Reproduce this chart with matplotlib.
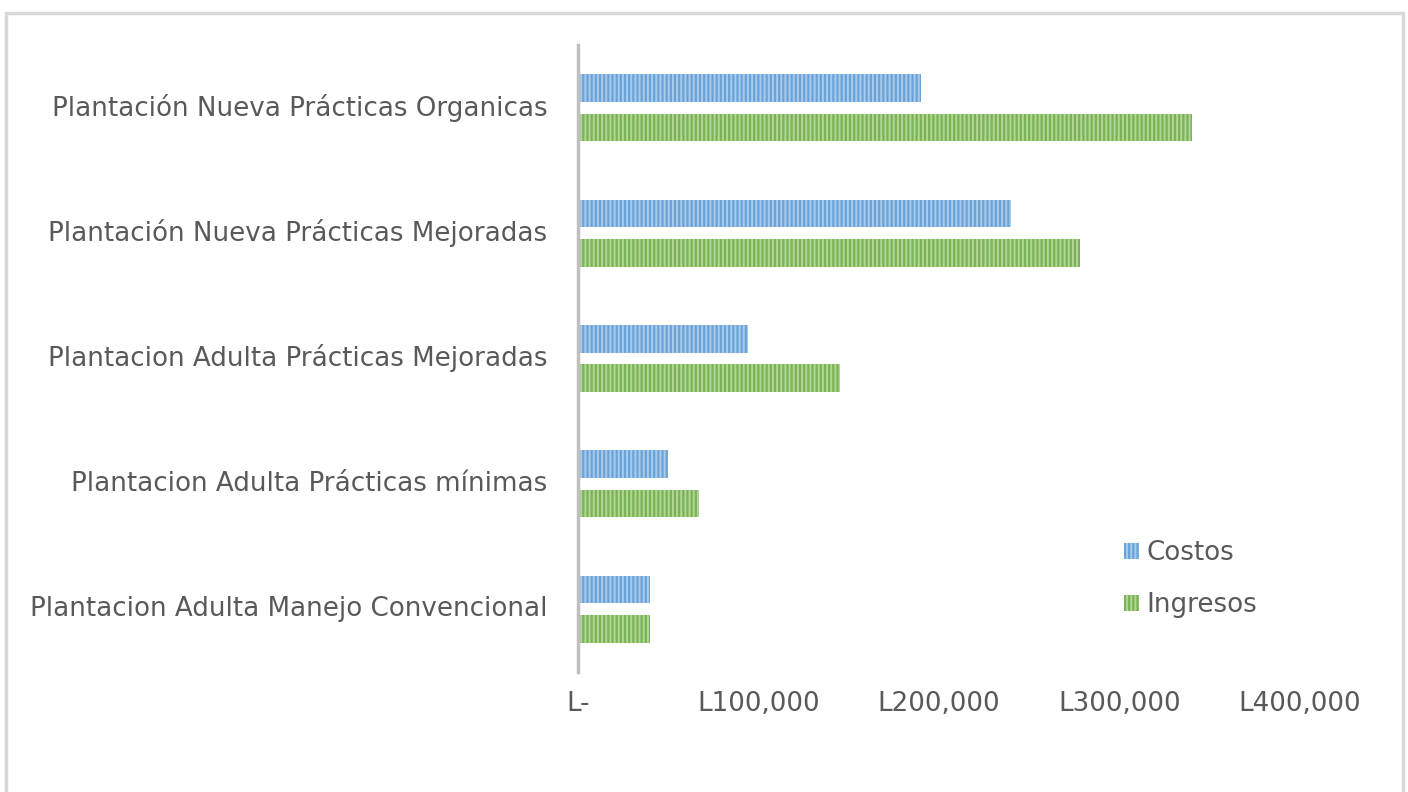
import matplotlib
matplotlib.use("Agg")
import matplotlib.pyplot as plt
import matplotlib.transforms as mtransforms
from matplotlib.patches import Rectangle
import numpy as np

categories = [
    "Plantacion Adulta Manejo Convencional",
    "Plantacion Adulta Prácticas mínimas",
    "Plantacion Adulta Prácticas Mejoradas",
    "Plantación Nueva Prácticas Mejoradas",
    "Plantación Nueva Prácticas Organicas",
]
costos = [40000, 50000, 94000, 240000, 190000]
ingresos = [40000, 67000, 145000, 278000, 340000]
xticks = [0, 100000, 200000, 300000, 400000]
xtick_labels = ["L-", "L100,000", "L200,000", "L300,000", "L400,000"]

plt.rcParams['font.family'] = ['DejaVu Sans']
plt.rcParams['hatch.linewidth'] = 1.4

FS = 18.8
fig = plt.figure(figsize=(14.08, 7.92), dpi=100)
fig.patches.append(Rectangle((6/1408, -0.1), (1403-6)/1408, 1.1 - 13/792,
                             transform=fig.transFigure, fill=False,
                             edgecolor='#d9d9d9', linewidth=2.5))
ax = fig.add_axes([578/1408, 1-672/792, (1300-578)/1408, (672-45)/792])

y = np.arange(len(categories))
h = 0.22
off = 0.157
ax.barh(y + off, costos, height=h, color='#6aa3d8', edgecolor='#a9cbec',
        hatch='||||', linewidth=0, label='Costos')
ax.barh(y - off, ingresos, height=h, color='#7ab254', edgecolor='#b0d796',
        hatch='||||', linewidth=0, label='Ingresos')

ax.set_xlim(0, 400000)
ax.set_ylim(-0.5, 4.5)
ax.set_yticks(y)
ax.set_yticklabels(categories)
ax.set_xticks(xticks)
ax.set_xticklabels(xtick_labels)
ax.tick_params(axis='both', length=0, colors='#595959', labelsize=FS)
ax.tick_params(axis='y', pad=22)
ax.tick_params(axis='x', pad=14)
shift = mtransforms.ScaledTranslation(0, 3/100, fig.dpi_scale_trans)
for lbl in ax.get_yticklabels():
    lbl.set_transform(lbl.get_transform() + shift)
for s in ['top', 'right', 'bottom']:
    ax.spines[s].set_visible(False)
ax.spines['left'].set_color('#bfbfbf')
ax.spines['left'].set_linewidth(2.5)

leg = ax.legend(loc='center left', bbox_to_anchor=(0.742, 0.148), frameon=False,
                fontsize=FS, handlelength=0.55, handleheight=0.55,
                handletextpad=0.3, labelspacing=0.98, labelcolor='#595959',
                borderaxespad=0)

fig.savefig("out.png", dpi=100)
